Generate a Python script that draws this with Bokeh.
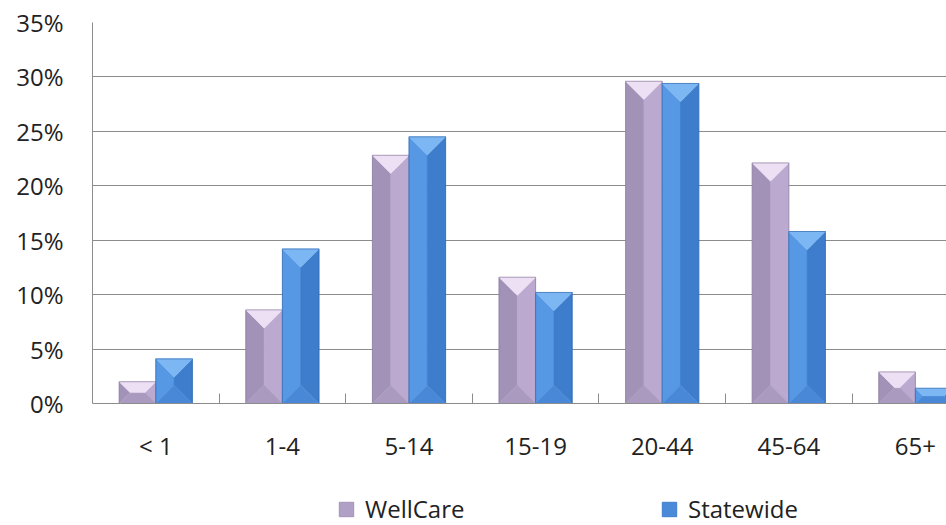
from bokeh.plotting import figure
from bokeh.layouts import column
from bokeh.models import Range1d, FixedTicker, Legend, LegendItem
from bokeh.embed import file_html
from bokeh.resources import INLINE

# Share of members by age group
categories = ["< 1", "1-4", "5-14", "15-19", "20-44", "45-64", "65+"]
wellcare = [2.0, 8.6, 22.8, 11.6, 29.6, 22.1, 2.9]
statewide = [4.1, 14.2, 24.5, 10.2, 29.4, 15.8, 1.4]
series_names = ["WellCare", "Statewide"]
y_ticks = [0, 5, 10, 15, 20, 25, 30, 35]

# Frame geometry (pixels) used to turn the bevel size into data units
FRAME_W, FRAME_H = 854, 381
CAT_PX = 126.6                      # pixel width of one category slot
X_END = -0.5 + FRAME_W / CAT_PX
Y_MAX = 35
PX_X = 1.0 / CAT_PX                 # data units per pixel, x
PX_Y = Y_MAX / FRAME_H              # data units per pixel, y
BAR_W = 0.289                       # bar width in category units

FONT = "Open Sans"
TEXT = "#222222"
GRID = "#8c8c8c"

p = figure(
    width=946, height=480,
    frame_width=FRAME_W, frame_height=FRAME_H,
    x_range=Range1d(-0.5, X_END), y_range=Range1d(0, Y_MAX),
    min_border_left=92, min_border_right=0, min_border_top=22,
    min_border_bottom=77,
    output_backend="svg", toolbar_location=None,
)
p.outline_line_color = None
p.background_fill_color = "white"
p.xgrid.grid_line_color = None
p.ygrid.ticker = FixedTicker(ticks=y_ticks)
p.ygrid.grid_line_color = GRID
p.ygrid.grid_line_width = 1


def bevel_faces(values, offset):
    """Split each bar into top/bottom/left/right faces of a bevelled block."""
    faces = {k: ([], []) for k in ("left", "right", "top", "bottom", "front")}
    hw_px = BAR_W / 2 / PX_X
    for i, v in enumerate(values):
        xc = i + offset
        x0, x1 = xc - BAR_W / 2, xc + BAR_W / 2
        h_px = v / PX_Y
        d = min(hw_px, h_px / 2)
        dx, dy = d * PX_X, d * PX_Y
        faces["top"][0].append([x0, x1, x1 - dx, x0 + dx])
        faces["top"][1].append([v, v, v - dy, v - dy])
        faces["bottom"][0].append([x0, x1, x1 - dx, x0 + dx])
        faces["bottom"][1].append([0, 0, dy, dy])
        faces["left"][0].append([x0, x0 + dx, x0 + dx, x0])
        faces["left"][1].append([v, v - dy, dy, 0])
        faces["right"][0].append([x1, x1 - dx, x1 - dx, x1])
        faces["right"][1].append([v, v - dy, dy, 0])
        faces["front"][0].append([x0 + dx, x1 - dx, x1 - dx, x0 + dx])
        faces["front"][1].append([v - dy, v - dy, dy, dy])
    return faces


def draw_series(values, offset, colors, edge):
    faces = bevel_faces(values, offset)
    for key in ("front", "left", "right", "bottom", "top"):
        xs, ys = faces[key]
        p.patches(xs, ys, fill_color=colors[key],
                  line_color=colors[key], line_width=0.5)
    # thin outline around each whole bar
    xs = [[i + offset - BAR_W / 2, i + offset + BAR_W / 2,
           i + offset + BAR_W / 2, i + offset - BAR_W / 2] for i in range(len(values))]
    ys = [[v, v, 0, 0] for v in values]
    p.patches(xs, ys, fill_alpha=0, line_color=edge, line_width=1, line_alpha=0.7)


wc_colors = dict(top="#eee0f4", left="#a292b8", right="#bba9d0",
                 bottom="#aa9abf", front="#b0a0c6")
sw_colors = dict(top="#7cb7f3", left="#5698e4", right="#3d7dcc",
                 bottom="#4888d6", front="#4a8ad8")

draw_series(wellcare, -BAR_W / 2, wc_colors, "#8a7aa0")
draw_series(statewide, BAR_W / 2, sw_colors, "#2f68b0")

# y axis
yax = p.yaxis[0]
yax.ticker = FixedTicker(ticks=y_ticks)
yax.major_label_overrides = {t: f"{t}%" for t in y_ticks}
yax.axis_line_color = GRID
yax.major_tick_in = 0
yax.major_tick_out = 0
yax.minor_tick_in = 0
yax.minor_tick_out = 0
yax.major_label_standoff = 29
yax.major_label_text_font = FONT
yax.major_label_text_font_size = "24px"
yax.major_label_text_color = TEXT

# x axis: labels at category centres, small inward marks at slot boundaries
xax = p.xaxis[0]
centres = list(range(len(categories)))
xax.ticker = FixedTicker(ticks=centres,
                         minor_ticks=[c + 0.5 for c in centres[:-1]])
xax.major_label_overrides = {i: c for i, c in enumerate(categories)}
xax.axis_line_color = GRID
xax.major_tick_in = 0
xax.major_tick_out = 0
xax.minor_tick_in = 10
xax.minor_tick_out = 0
xax.minor_tick_line_color = GRID
xax.major_label_standoff = 25
xax.major_label_text_font = FONT
xax.major_label_text_font_size = "24px"
xax.major_label_text_color = TEXT

# legend strip underneath the chart; the key swatches are parked outside
# the strip's visible range so only their legend entries show
lg = figure(
    width=946, height=45,
    x_range=Range1d(0, 1), y_range=Range1d(0, 1),
    x_axis_type=None, y_axis_type=None,
    min_border_left=0, min_border_right=0, min_border_top=0,
    min_border_bottom=0,
    output_backend="svg", toolbar_location=None,
)
lg.outline_line_color = None
lg.grid.grid_line_color = None
key_wc = lg.rect(x=[-5], y=[-5], width=0.1, height=0.1,
                 fill_color=wc_colors["front"], line_color=wc_colors["left"],
                 line_width=1)
key_sw = lg.rect(x=[-5], y=[-5], width=0.1, height=0.1,
                 fill_color=sw_colors["front"], line_color=sw_colors["right"],
                 line_width=1)

legend = Legend(
    items=[LegendItem(label=series_names[0], renderers=[key_wc]),
           LegendItem(label=series_names[1], renderers=[key_sw])],
    orientation="horizontal",
    location=(245, 0),
    glyph_width=18, glyph_height=18,
    label_standoff=10, spacing=185, label_width=110, label_height=18,
    padding=0, margin=0,
    border_line_color=None, background_fill_alpha=0,
    label_text_font=FONT, label_text_font_size="24px",
    label_text_color=TEXT,
)
lg.add_layout(legend, "center")

open("out.html", "w").write(file_html(column(p, lg, spacing=0), INLINE))
